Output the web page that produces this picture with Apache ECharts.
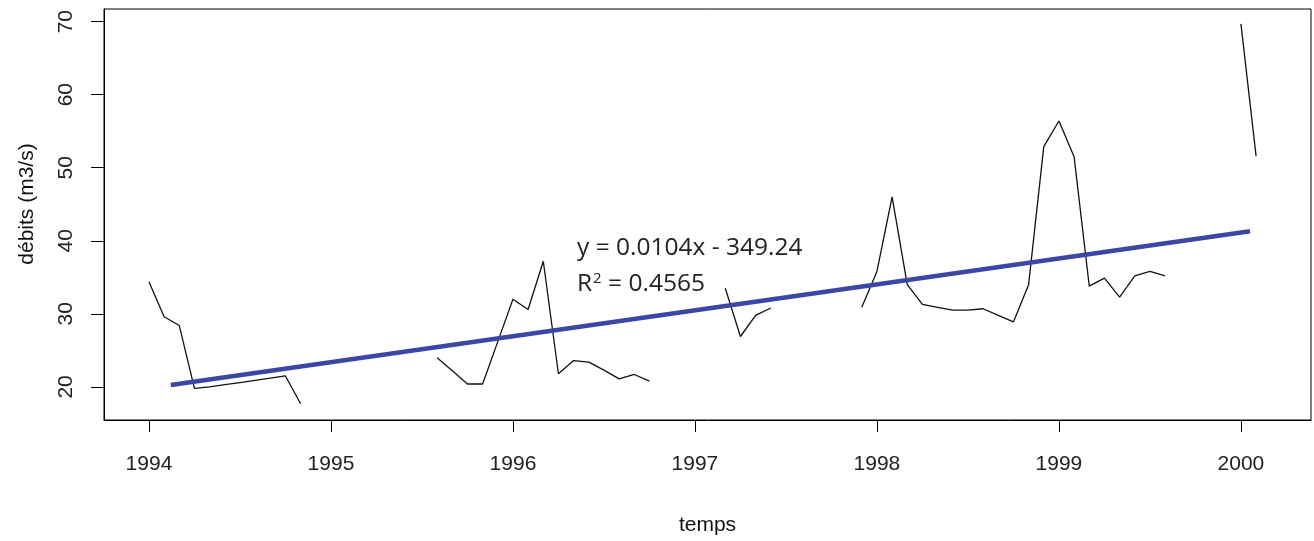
<!DOCTYPE html>
<html>
<head>
<meta charset="utf-8">
<script src="https://cdn.jsdelivr.net/npm/echarts@6/dist/echarts.min.js"></script>
<style>
html,body{margin:0;padding:0;background:#fff;}
#chart{width:1314px;height:541px;}
</style>
</head>
<body>
<div id="chart"></div>
<script>
// Monthly discharge (m3/s), starting January 1994; null = missing month
const startYear = 1994;
const debits = [
  34.4, 29.6, 28.4, 19.8, 20.0, 20.3, 20.6, 20.9, 21.2, 21.5, 17.7, null,   // 1994
  null, null, null, null, null, null, null, 24.0, 22.2, 20.4, 20.4, 26.2,   // 1995
  32.0, 30.6, 37.2, 21.8, 23.6, 23.4, 22.3, 21.1, 21.7, 20.8, null, null,   // 1996
  null, null, 33.5, 26.9, 29.8, 30.8, null, null, null, null, null, 30.9,   // 1997
  35.8, 46.0, 34.0, 31.3, 30.9, 30.5, 30.5, 30.7, 29.8, 28.9, 34.0, 52.9,   // 1998
  56.4, 51.5, 33.8, 34.9, 32.3, 35.2, 35.8, 35.2, null, null, null, null,   // 1999
  69.7, 51.6                                                                // 2000
];
// Linear trend line endpoints (time, value)
const trendTime = [1994.12, 2000.05];
const trendValue = [20.27, 41.3];
// Tick labels
const xTicks = [1994, 1995, 1996, 1997, 1998, 1999, 2000];
const yTicks = [20, 30, 40, 50, 60, 70];
const xTitle = 'temps';
const yTitle = 'débits (m3/s)';
const eqLine1 = 'y = 0.0104x - 349.24';
const eqR2 = '0.4565';

const seriesData = debits.map((v, i) => [startYear + i / 12, v]);
const trendData = trendTime.map((t, i) => [t, trendValue[i]]);

const font = '"Liberation Sans", Arial, sans-serif';
const eqFont = '"Open Sans", sans-serif';
const chart = echarts.init(document.getElementById('chart'), null, {renderer: 'canvas'});
chart.setOption({
  animation: false,
  backgroundColor: '#fff',
  grid: {left: 104, right: 3, top: 9, bottom: 110, show: true, borderColor: '#000', borderWidth: 1, containLabel: false},
  xAxis: {
    type: 'value', min: 1993.753, max: 2000.385,
    axisLine: {show: true, onZero: false, lineStyle: {color: '#000', width: 1}},
    axisTick: {show: true, length: 12, lineStyle: {color: '#000'}, customValues: xTicks},
    axisLabel: {show: true, customValues: xTicks, margin: 34, color: '#222', fontSize: 21, fontFamily: font, formatter: v => String(Math.round(v))},
    splitLine: {show: false},
    name: xTitle, nameLocation: 'middle', nameGap: 95,
    nameTextStyle: {color: '#111', fontSize: 21, fontFamily: font}
  },
  yAxis: {
    type: 'value', min: 15.47, max: 71.73,
    axisLine: {show: true, onZero: false, lineStyle: {color: '#000', width: 1}},
    axisTick: {show: true, length: 13, lineStyle: {color: '#000'}, customValues: yTicks},
    axisLabel: {show: true, customValues: yTicks, rotate: 90, margin: 38, color: '#222', fontSize: 21, fontFamily: font, verticalAlign: 'middle', align: 'center'},
    splitLine: {show: false}
  },
  series: [
    {
      type: 'line', data: seriesData, connectNulls: false, showSymbol: false, symbol: 'none',
      lineStyle: {color: '#111', width: 1.3}, z: 3
    },
    {
      type: 'line', data: trendData, showSymbol: false, symbol: 'none',
      lineStyle: {color: '#3c46a5', width: 4.5}, z: 4
    }
  ],
  graphic: [
    {
      type: 'text', x: 27, y: 204, rotation: Math.PI / 2, z: 10,
      style: {text: yTitle, fontSize: 21, fontFamily: font, fill: '#111', align: 'center', verticalAlign: 'middle'}
    },
    {
      type: 'text', left: 577, top: 236, z: 10,
      style: {text: eqLine1, fontSize: 24.5, fontFamily: eqFont, fill: '#222'}
    },
    {
      type: 'text', left: 577, top: 271, z: 10,
      style: {
        text: '{r|R}{s|2}{r| = ' + eqR2 + '}',
        rich: {
          r: {fontSize: 24.5, fontFamily: eqFont, fill: '#222', verticalAlign: 'bottom'},
          s: {fontSize: 15, fontFamily: eqFont, fill: '#222', verticalAlign: 'top', padding: [0, 0, 11, 1]}
        }
      }
    }
  ]
});
</script>
</body>
</html>
